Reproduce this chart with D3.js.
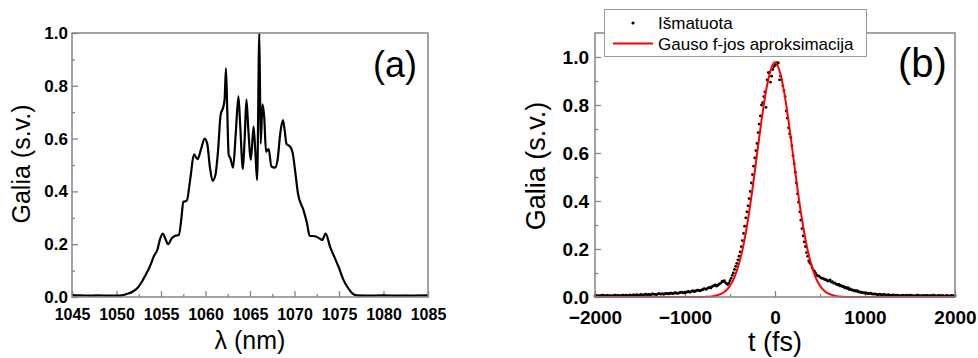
<!DOCTYPE html>
<html><head><meta charset="utf-8">
<script src="https://cdn.jsdelivr.net/npm/d3@7"></script>
<style>
html,body{margin:0;padding:0;background:#fff;}
svg{display:block;}
text{font-family:"Liberation Sans",Arial,sans-serif;fill:#000;}
</style></head><body>
<svg id="c" width="978" height="358"></svg>
<script>
// ---------- Panel (a): spectrum ----------
const specLambda = [1045,1046,1047,1048,1049,1050,1050.6,1051.2,1051.8,1052.3,1052.8,1053.3,1053.8,1054.2,1054.6,1054.9,1055.2,1055.5,1055.8,1056.2,1056.6,1057.0,1057.3,1057.5,1057.9,1058.3,1058.7,1059.1,1059.5,1059.9,1060.2,1060.5,1060.8,1061.1,1061.4,1061.7,1062.0,1062.15,1062.3,1062.45,1062.6,1062.8,1063.1,1063.4,1063.7,1063.9,1064.2,1064.4,1064.6,1064.8,1065.1,1065.4,1065.6,1065.8,1066.05,1066.2,1066.4,1066.6,1066.8,1067.1,1067.4,1067.8,1068.1,1068.4,1068.7,1068.9,1069.1,1069.5,1069.8,1070.1,1070.4,1071.0,1071.4,1071.7,1072.3,1072.8,1073.1,1073.5,1074.0,1074.5,1075.0,1075.5,1076.0,1076.5,1077.0,1078,1080,1082,1085];
const specGalia  = [0.007,0.006,0.005,0.006,0.005,0.005,0.006,0.012,0.020,0.032,0.055,0.085,0.120,0.155,0.180,0.220,0.240,0.220,0.200,0.222,0.232,0.235,0.300,0.360,0.365,0.450,0.540,0.522,0.560,0.600,0.580,0.490,0.440,0.460,0.550,0.690,0.720,0.750,0.866,0.700,0.540,0.525,0.490,0.620,0.760,0.650,0.485,0.600,0.748,0.640,0.520,0.645,0.550,0.443,1.000,0.580,0.730,0.680,0.550,0.560,0.495,0.490,0.520,0.620,0.670,0.630,0.580,0.570,0.545,0.470,0.390,0.330,0.280,0.232,0.230,0.222,0.216,0.240,0.190,0.150,0.110,0.065,0.035,0.014,0.006,0.005,0.006,0.005,0.006];
const xTicksA = [1045,1050,1055,1060,1065,1070,1075,1080,1085];
const yTicksA = [0.0,0.2,0.4,0.6,0.8,1.0];

// ---------- Panel (b): autocorrelation ----------
const measT = [-2000,-1975,-1950,-1925,-1900,-1875,-1850,-1825,-1800,-1775,-1750,-1725,-1700,-1675,-1650,-1625,-1600,-1575,-1550,-1525,-1500,-1475,-1450,-1425,-1400,-1375,-1350,-1325,-1300,-1275,-1250,-1225,-1200,-1175,-1150,-1125,-1100,-1075,-1050,-1025,-1000,-975,-950,-925,-900,-875,-850,-825,-800,-775,-750,-725,-700,-675,-650,-625,-600,-575,-550,-525,-500,-475,-450,-425,-400,-375,-350,-325,-300,-275,-250,-225,-200,-175,-150,-125,-100,-75,-50,-25,0,25,50,75,100,125,150,175,200,225,250,275,300,325,350,375,400,425,450,475,500,525,550,575,600,625,650,675,700,725,750,775,800,825,850,875,900,925,950,975,1000,1025,1050,1075,1100,1125,1150,1175,1200,1225,1250,1275,1300,1325,1350,1375,1400,1425,1450,1475,1500,1525,1550,1575,1600,1625,1650,1675,1700,1725,1750,1775,1800,1825,1850,1875,1900,1925,1950,1975,2000];
const measGalia = [0.004,0.006,0.005,0.007,0.005,0.006,0.004,0.006,0.005,0.007,0.006,0.005,0.007,0.006,0.008,0.006,0.007,0.009,0.007,0.008,0.009,0.008,0.010,0.009,0.011,0.010,0.012,0.011,0.013,0.012,0.014,0.013,0.015,0.014,0.016,0.015,0.017,0.016,0.019,0.018,0.020,0.021,0.020,0.024,0.023,0.026,0.028,0.027,0.031,0.033,0.036,0.040,0.043,0.047,0.045,0.052,0.058,0.064,0.060,0.052,0.068,0.090,0.115,0.140,0.170,0.210,0.265,0.330,0.380,0.440,0.510,0.580,0.640,0.720,0.800,0.835,0.790,0.935,0.895,0.948,0.965,0.976,0.905,0.905,0.860,0.775,0.705,0.665,0.590,0.520,0.430,0.355,0.285,0.230,0.185,0.150,0.135,0.112,0.100,0.088,0.083,0.078,0.074,0.070,0.068,0.062,0.058,0.055,0.050,0.046,0.043,0.038,0.035,0.031,0.029,0.026,0.024,0.021,0.019,0.018,0.016,0.015,0.014,0.013,0.012,0.011,0.010,0.010,0.009,0.009,0.008,0.008,0.007,0.006,0.007,0.005,0.006,0.007,0.005,0.006,0.008,0.006,0.005,0.007,0.006,0.005,0.007,0.006,0.005,0.006,0.004,0.006,0.005,0.007,0.005,0.004,0.006,0.005,0.004,0.006,0.005];
const measT2 = [-1987.5,-1962.5,-1937.5,-1912.5,-1887.5,-1862.5,-1837.5,-1812.5,-1787.5,-1762.5,-1737.5,-1712.5,-1687.5,-1662.5,-1637.5,-1612.5,-1587.5,-1562.5,-1537.5,-1512.5,-1487.5,-1462.5,-1437.5,-1412.5,-1387.5,-1362.5,-1337.5,-1312.5,-1287.5,-1262.5,-1237.5,-1212.5,-1187.5,-1162.5,-1137.5,-1112.5,-1087.5,-1062.5,-1037.5,-1012.5,-987.5,-962.5,-937.5,-912.5,-887.5,-862.5,-837.5,-812.5,-787.5,-762.5,-737.5,-712.5,-687.5,-662.5,-637.5,-612.5,-587.5,-562.5,-537.5,-512.5,-487.5,-462.5,-437.5,-412.5,-387.5,-362.5,-337.5,-312.5,-287.5,-262.5,-237.5,-212.5,-187.5,-162.5,-137.5,-112.5,-87.5,-62.5,-37.5,-12.5,12.5,37.5,62.5,87.5,112.5,137.5,162.5,187.5,212.5,237.5,262.5,287.5,312.5,337.5,362.5,387.5,412.5,437.5,462.5,487.5,512.5,537.5,562.5,587.5,612.5,637.5,662.5,687.5,712.5,737.5,762.5,787.5,812.5,837.5,862.5,887.5,912.5,937.5,962.5,987.5,1012.5,1037.5,1062.5,1087.5,1112.5,1137.5,1162.5,1187.5,1212.5,1237.5,1262.5,1287.5,1312.5,1337.5,1362.5,1387.5,1412.5,1437.5,1462.5,1487.5,1512.5,1537.5,1562.5,1587.5,1612.5,1637.5,1662.5,1687.5,1712.5,1737.5,1762.5,1787.5,1812.5,1837.5,1862.5,1887.5,1912.5,1937.5,1962.5,1987.5];
const measGalia2 = [0.007,0.004,0.006,0.008,0.005,0.007,0.006,0.004,0.008,0.006,0.007,0.005,0.008,0.007,0.005,0.009,0.006,0.008,0.010,0.007,0.011,0.008,0.012,0.010,0.009,0.013,0.011,0.010,0.014,0.012,0.011,0.015,0.013,0.016,0.014,0.018,0.015,0.017,0.020,0.017,0.019,0.023,0.021,0.026,0.024,0.029,0.026,0.030,0.035,0.032,0.039,0.037,0.046,0.050,0.048,0.056,0.066,0.068,0.055,0.058,0.078,0.100,0.128,0.155,0.188,0.235,0.295,0.355,0.410,0.475,0.545,0.610,0.685,0.755,0.810,0.855,0.905,0.935,0.920,0.960,0.970,0.975,0.920,0.880,0.835,0.745,0.680,0.630,0.555,0.475,0.395,0.320,0.255,0.210,0.170,0.142,0.122,0.108,0.092,0.087,0.079,0.076,0.072,0.066,0.071,0.064,0.059,0.052,0.053,0.047,0.044,0.040,0.039,0.034,0.030,0.027,0.026,0.022,0.020,0.017,0.017,0.014,0.016,0.012,0.013,0.010,0.012,0.009,0.011,0.008,0.010,0.007,0.009,0.006,0.008,0.005,0.007,0.006,0.008,0.005,0.007,0.004,0.006,0.008,0.005,0.006,0.004,0.007,0.005,0.006,0.008,0.004,0.006,0.005,0.007,0.004,0.006,0.005,0.007,0.004];
const fitT = [-2000,-1000,-900,-800,-700,-650,-600,-550,-500,-450,-400,-350,-300,-250,-200,-150,-100,-50,0,50,100,150,200,250,300,350,400,450,500,550,600,650,700,800,900,1000,2000];
const fitGalia = [0,0,0.0001,0.0004,0.0026,0.0059,0.0126,0.025,0.047,0.083,0.139,0.218,0.323,0.451,0.593,0.735,0.858,0.943,0.978,0.943,0.858,0.735,0.593,0.451,0.323,0.218,0.139,0.083,0.047,0.025,0.0126,0.0059,0.0026,0.0004,0.0001,0,0];
const xTicksB = [-2000,-1000,0,1000,2000];
const yTicksB = [0.0,0.2,0.4,0.6,0.8,1.0];
const legendLabels = ["Išmatuota","Gauso f-jos aproksimacija"];

const svg = d3.select("#c");
const FRAME = "#858585";

function panel(o){
  const g = svg.append("g");
  const x = d3.scaleLinear().domain(o.xDom).range([o.l,o.r]);
  const y = d3.scaleLinear().domain(o.yDom).range([o.b,o.t]);
  g.append("g").attr("transform",`translate(0,${o.b})`)
    .call(d3.axisBottom(x).tickValues(o.xMinor).tickSizeInner(-3).tickSizeOuter(0).tickFormat(""))
    .call(s=>{s.select(".domain").remove();s.selectAll("line").attr("stroke",FRAME).attr("stroke-width",1.3);});
  g.append("g").attr("transform",`translate(${o.l},0)`)
    .call(d3.axisLeft(y).tickValues(o.yMinor).tickSizeInner(-3).tickSizeOuter(0).tickFormat(""))
    .call(s=>{s.select(".domain").remove();s.selectAll("line").attr("stroke",FRAME).attr("stroke-width",1.3);});
  g.append("g").attr("transform",`translate(0,${o.b})`)
    .call(d3.axisBottom(x).tickValues(o.xTicks).tickSizeInner(-6).tickSizeOuter(0).tickPadding(o.xPad).tickFormat(d3.format("d")))
    .call(s=>{s.select(".domain").remove();s.selectAll("line").attr("stroke",FRAME).attr("stroke-width",1.3);
      s.selectAll("text").attr("font-size",o.xFs).attr("font-weight","bold").attr("fill","#000");});
  g.append("g").attr("transform",`translate(${o.l},0)`)
    .call(d3.axisLeft(y).tickValues(o.yTicks).tickSizeInner(-6).tickSizeOuter(0).tickPadding(o.yPad).tickFormat(d3.format(".1f")))
    .call(s=>{s.select(".domain").remove();s.selectAll("line").attr("stroke",FRAME).attr("stroke-width",1.3);
      s.selectAll("text").attr("font-size",o.yFs).attr("font-weight","bold").attr("fill","#000");});
  g.append("text").attr("x",(o.l+o.r)/2).attr("y",o.xTitleY).attr("text-anchor","middle")
    .attr("font-size",o.titleFs).text(o.xTitle);
  g.append("text").attr("transform",`translate(${o.yTitleX},${o.yTitleCY}) rotate(-90)`).attr("text-anchor","middle")
    .attr("font-size",o.titleFs).text(o.yTitle);
  return {g,x,y};
}

// Panel (a)
const A = panel({l:72,r:428,t:33,b:297,xDom:[1045,1085],yDom:[0,1],
  xTicks:xTicksA, xMinor:[1047.5,1052.5,1057.5,1062.5,1067.5,1072.5,1077.5,1082.5],
  yTicks:yTicksA, yMinor:[0.1,0.3,0.5,0.7,0.9],
  xPad:12, yPad:4, xFs:16, yFs:17, titleFs:25,
  xTitle:"λ (nm)", xTitleY:349, yTitle:"Galia (s.v.)", yTitleX:30, yTitleCY:164});
const specData = specLambda.map((d,i)=>[d,specGalia[i]]);
A.g.append("path").datum(specData)
  .attr("fill","none").attr("stroke","#000").attr("stroke-width",2.2).attr("stroke-linejoin","round")
  .attr("d",d3.line().curve(d3.curveMonotoneX).x(d=>A.x(d[0])).y(d=>A.y(d[1])));
A.g.append("rect").attr("x",72).attr("y",33).attr("width",356).attr("height",264)
  .attr("fill","none").attr("stroke",FRAME).attr("stroke-width",1.5);
A.g.append("text").attr("x",373).attr("y",77).attr("font-size",36).text("(a)");

// Panel (b)
const B = panel({l:595,r:955,t:33,b:297,xDom:[-2000,2000],yDom:[0,1.1],
  xTicks:xTicksB, xMinor:[-1500,-500,500,1500],
  yTicks:yTicksB, yMinor:[0.1,0.3,0.5,0.7,0.9],
  xPad:14, yPad:6, xFs:19, yFs:19, titleFs:27,
  xTitle:"t (fs)", xTitleY:351, yTitle:"Galia (s.v.)", yTitleX:545, yTitleCY:166});
const measData = measT.map((d,i)=>[d,measGalia[i]]).concat(measT2.map((d,i)=>[d,measGalia2[i]]));
B.g.append("g").selectAll("circle").data(measData).join("circle")
  .attr("cx",d=>B.x(d[0])).attr("cy",d=>B.y(d[1])).attr("r",1.4).attr("fill","#000");
B.g.append("path").datum(fitT.map((d,i)=>[d,fitGalia[i]]))
  .attr("fill","none").attr("stroke","#ff0000").attr("stroke-width",2)
  .attr("d",d3.line().curve(d3.curveMonotoneX).x(d=>B.x(d[0])).y(d=>B.y(d[1])));
B.g.append("rect").attr("x",595).attr("y",33).attr("width",360).attr("height",264)
  .attr("fill","none").attr("stroke",FRAME).attr("stroke-width",1.5);
B.g.append("text").attr("x",898).attr("y",77).attr("font-size",40).text("(b)");

// legend
const lg = svg.append("g");
lg.append("rect").attr("x",604.5).attr("y",9.5).attr("width",262).attr("height",47)
  .attr("fill","#fff").attr("stroke","#9a9a9a").attr("stroke-width",1);
lg.append("circle").attr("cx",633).attr("cy",23).attr("r",1.6).attr("fill","#000");
lg.append("line").attr("x1",613).attr("x2",653).attr("y1",43.5).attr("y2",43.5).attr("stroke","#ff0000").attr("stroke-width",2);
lg.append("text").attr("x",658).attr("y",29).attr("font-size",17).text(legendLabels[0]);
lg.append("text").attr("x",658).attr("y",50).attr("font-size",17).text(legendLabels[1]);
</script>
</body></html>
